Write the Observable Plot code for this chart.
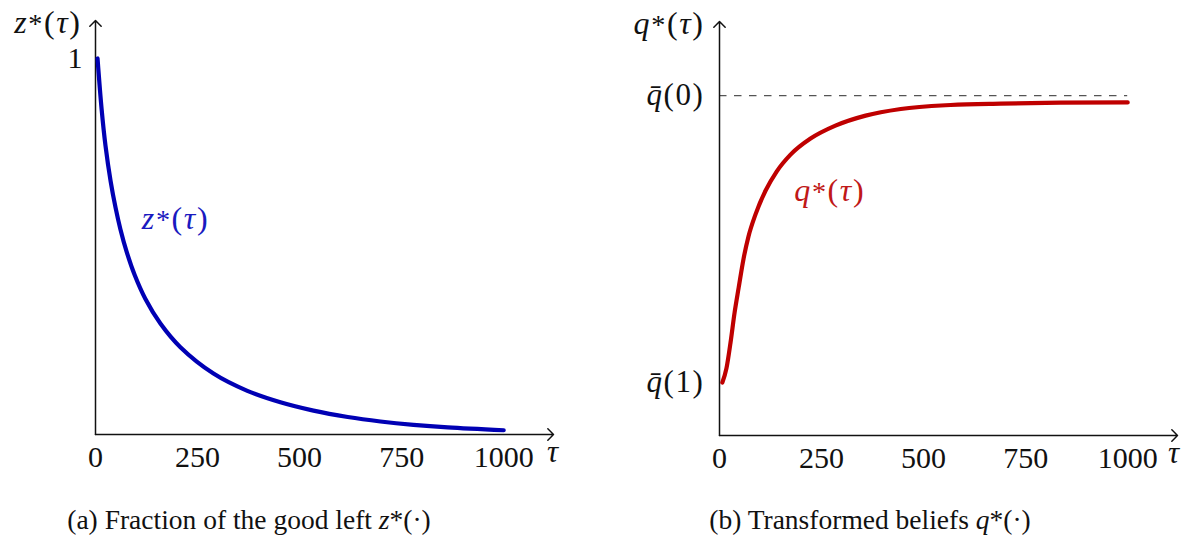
<!DOCTYPE html>
<html><head><meta charset="utf-8">
<script src="https://cdn.jsdelivr.net/npm/d3@7"></script>
<script src="https://cdn.jsdelivr.net/npm/@observablehq/plot@0.6"></script>
<style>
html,body{margin:0;padding:0;background:#fff;}
#wrap{position:relative;width:1195px;height:542px;overflow:hidden;font-family:"Liberation Serif",serif;}
.panel{position:absolute;top:0;}
.cap{position:absolute;top:505px;font-size:27.5px;line-height:30px;white-space:nowrap;transform:translateX(-50%);color:#111;}
</style></head><body>
<div id="wrap">
 <div id="left" class="panel" style="left:0"></div>
 <div id="right" class="panel" style="left:597px"></div>
 <div class="cap" style="left:249px">(a) Fraction of the good left <i>z</i>*(·)</div>
 <div class="cap" style="left:870px">(b) Transformed beliefs <i>q</i>*(·)</div>
</div>
<script>
// ---- data ----
const tauTicks = [0, 250, 500, 750, 1000];
const zTicks = [1];
const zTickLabels = ["1"];
const qTicks = [0, 1];
const qTickLabels = ["q\u0304(1)", "q\u0304(0)"];

// left panel: z*(tau)
const zTau = [5, 15, 24.5, 37, 49, 61, 76, 96, 122, 159, 208, 289, 372, 453, 534, 618, 698, 779, 863, 1000];
const zVal = [1, 0.865, 0.768, 0.674, 0.604, 0.546, 0.487, 0.424, 0.361, 0.295, 0.232, 0.162, 0.116, 0.0856, 0.0634, 0.0465, 0.0346, 0.0256, 0.0188, 0.0113];

// right panel: q*(tau), normalised so that qbar(1)=0 and qbar(0)=1
const qTau = [7, 17, 27, 37, 47, 59, 71, 88, 113, 140, 174, 223, 284, 358, 444, 566, 689, 836, 1000];
const qVal = [0, 0.049, 0.139, 0.244, 0.331, 0.432, 0.509, 0.585, 0.669, 0.735, 0.794, 0.850, 0.895, 0.930, 0.953, 0.967, 0.972, 0.975, 0.976];
const qBarLevel = [1];

// annotations
const zLabel = [{t: 196, v: 0.574, s: "z*(τ)"}];
const qLabel = [{t: 270, v: 0.669, s: "q*(τ)"}];

// ---- helpers ----
const xMax = 1122;
const tauEnd = 1000;
const zDom = [0, 1.101];
const qDom = [-0.1847, 1.258];
const blue = "#0000b4", red = "#bf0000", ink = "#111";

function mathify(svg) {
  d3.select(svg).selectAll("text").each(function () {
    const t = this;
    const s = t.textContent;
    if (!/[zqτ]/.test(s)) return;
    if (s.length > 1) t.setAttribute("letter-spacing", "1.6px");
    while (t.firstChild) t.removeChild(t.firstChild);
    const chars = Array.from(s);
    let i = 0;
    while (i < chars.length) {
      const c = chars[i]; let seg = c; i++;
      while (i < chars.length && chars[i] === "\u0304") { seg += chars[i]; i++; }
      const ts = document.createElementNS("http://www.w3.org/2000/svg", "tspan");
      if (/[zqτ]/.test(c)) ts.setAttribute("font-style", "italic");
      if (c === "*") ts.setAttribute("font-size", "88%");
      ts.textContent = seg;
      t.appendChild(ts);
    }
  });
  return svg;
}

const baseStyle = {fontFamily: "Liberation Serif, serif", fontSize: "30px", color: ink, background: "transparent"};
const arrowOpts = {x1: "x1", y1: "y1", x2: "x2", y2: "y2", stroke: ink, strokeWidth: 1.5, headLength: 8, headAngle: 90};

// ---- left plot ----
const zData = zTau.map((t, i) => ({t, v: zVal[i]}));
const left = Plot.plot({
  width: 597, height: 480,
  marginLeft: 95, marginRight: 44, marginTop: 20, marginBottom: 46,
  x: {domain: [0, xMax]},
  y: {domain: zDom},
  style: baseStyle,
  marks: [
    Plot.axisX({ticks: tauTicks, tickSize: 0, tickPadding: 11, label: null, tickFormat: d => String(d)}),
    Plot.axisY({ticks: zTicks, tickSize: 0, tickPadding: 13, label: null, tickFormat: (d, i) => zTickLabels[i]}),
    Plot.arrow([{x1: 0, y1: zDom[0], x2: xMax, y2: zDom[0]}], arrowOpts),
    Plot.arrow([{x1: 0, y1: zDom[0], x2: 0, y2: zDom[1]}], arrowOpts),
    Plot.line(zData, {x: "t", y: "v", stroke: blue, strokeWidth: 4.2, curve: "catmull-rom"}),
    Plot.text(zLabel, {x: "t", y: "v", text: "s", fill: "#1a1ac0", fontSize: 32, textAnchor: "middle", lineAnchor: "middle"}),
    Plot.text([{x: xMax, y: zDom[0], s: "τ"}], {x: "x", y: "y", text: "s", fontSize: 31, dx: -1, dy: 18, lineAnchor: "middle", textAnchor: "middle", fill: ink}),
    Plot.text([{x: 0, y: zDom[1], s: "z*(τ)"}], {x: "x", y: "y", text: "s", fontSize: 32, dx: -14, dy: 2, lineAnchor: "middle", textAnchor: "end", fill: ink})
  ]
});
document.getElementById("left").appendChild(mathify(left));

// ---- right plot ----
const qData = qTau.map((t, i) => ({t, v: qVal[i]}));
const right = Plot.plot({
  width: 598, height: 480,
  marginLeft: 122, marginRight: 18, marginTop: 21, marginBottom: 45,
  x: {domain: [0, xMax]},
  y: {domain: qDom},
  style: baseStyle,
  marks: [
    Plot.axisX({ticks: tauTicks, tickSize: 0, tickPadding: 11, label: null, tickFormat: d => String(d)}),
    Plot.axisY({ticks: qTicks, tickSize: 0, tickPadding: 15, label: null, fontSize: 31, tickFormat: (d, i) => qTickLabels[i]}),
    Plot.ruleY(qBarLevel.map(v => ({v, a: 0, b: tauEnd})), {y: "v", x1: "a", x2: "b", stroke: "#555", strokeWidth: 1.3, strokeDasharray: "7.5,7.5"}),
    Plot.arrow([{x1: 0, y1: qDom[0], x2: xMax, y2: qDom[0]}], arrowOpts),
    Plot.arrow([{x1: 0, y1: qDom[0], x2: 0, y2: qDom[1]}], arrowOpts),
    Plot.line(qData, {x: "t", y: "v", stroke: red, strokeWidth: 4.2, curve: "monotone-x"}),
    Plot.text(qLabel, {x: "t", y: "v", text: "s", fill: "#c01818", fontSize: 32, textAnchor: "middle", lineAnchor: "middle"}),
    Plot.text([{x: xMax, y: qDom[0], s: "τ"}], {x: "x", y: "y", text: "s", fontSize: 31, dx: -4, dy: 18, lineAnchor: "middle", textAnchor: "middle", fill: ink}),
    Plot.text([{x: 0, y: qDom[1], s: "q*(τ)"}], {x: "x", y: "y", text: "s", fontSize: 32, dx: -15, dy: 2, lineAnchor: "middle", textAnchor: "end", fill: ink})
  ]
});
document.getElementById("right").appendChild(mathify(right));
</script>
</body></html>
